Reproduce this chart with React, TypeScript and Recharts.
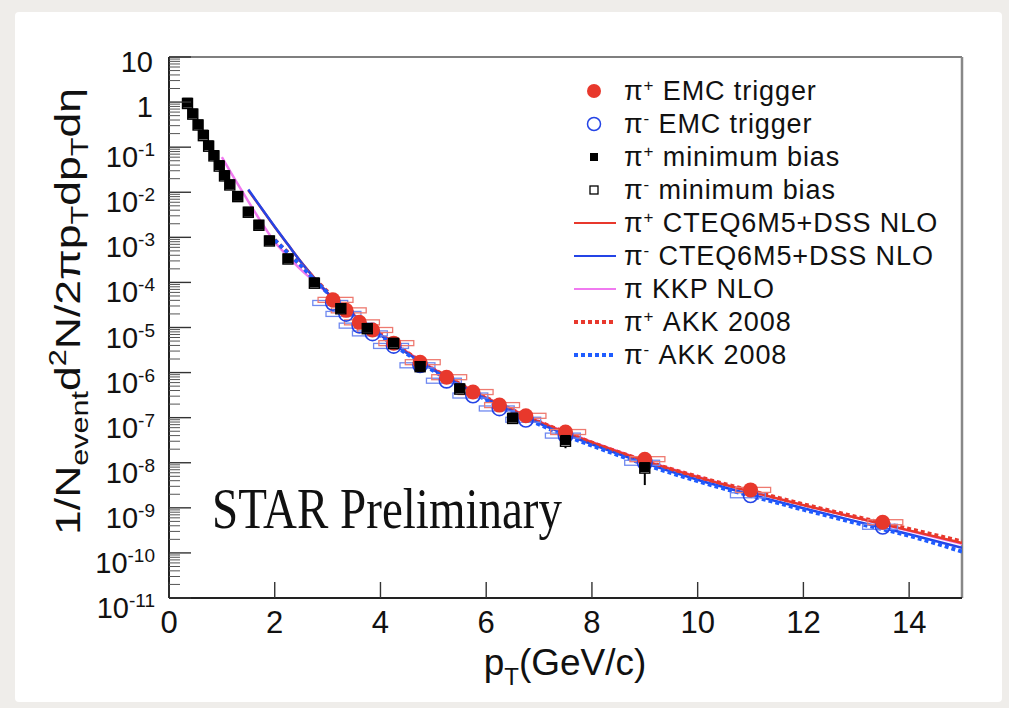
import React from "react";
import {
  ComposedChart,
  Line,
  Scatter,
  XAxis,
  YAxis,
  ErrorBar,
  ReferenceLine,
} from "recharts";

// canvas + plot frame
const W = 1009;
const H = 708;
const Y_AXIS_W = 169;
const X_AXIS_H = 110;
const MARGIN = { top: 57, right: 47, bottom: 0, left: 0 };
const PLOT_W = W - Y_AXIS_W - MARGIN.right;
const X_MAX = 15;
const PX_PER_GEV = PLOT_W / X_MAX;

const RED = "#e8382c";
const RED_BOX = "#ee7a70";
const BLUE = "#2444e6";
const BLUE_BOX = "#6f89f0";
const BLUE_DOT = "#1f5cff";
const MAGENTA = "#f07af0";
const FONT = "'Liberation Sans', Arial, Helvetica, sans-serif";

// ---- data ----
const mbPt = [0.35, 0.45, 0.55, 0.65, 0.75, 0.85, 0.95, 1.05, 1.15, 1.3, 1.5, 1.7, 1.9, 2.25, 2.75, 3.25, 3.75, 4.25, 4.75, 5.5, 6.5, 7.5, 9];
const mbPiPlus = [0.97, 0.56, 0.32, 0.19, 0.11, 0.067, 0.04, 0.024, 0.015, 8.3e-3, 3.7e-3, 1.9e-3, 8.5e-4, 3.4e-4, 1.0e-4, 2.7e-5, 9.8e-6, 4.6e-6, 1.4e-6, 4.5e-7, 1.0e-7, 3.2e-8, 8.0e-9];
const mbPiMinus = [0.93, 0.54, 0.31, 0.18, 0.105, 0.064, 0.038, 0.023, 0.0145, 8.0e-3, 3.6e-3, 1.85e-3, 8.3e-4, 3.3e-4, 9.6e-5, 2.6e-5, 9.4e-6, 4.4e-6, 1.35e-6, 4.3e-7, 9.6e-8, 3.0e-8, 7.6e-9];
const mbStatErr = [0, 0, 0, 0, 0, 0, 0, 0, 0, 0, 0, 0, 0, 0, 0, 0, 0, 0, 0, 0, 0, 1.1e-8, 4.8e-9];

const emcPt = [3.1, 3.35, 3.6, 3.85, 4.25, 4.75, 5.25, 5.75, 6.25, 6.75, 7.5, 9, 11, 13.5];
const emcPiPlus = [4.1e-5, 2.4e-5, 1.3e-5, 8.8e-6, 4.5e-6, 1.7e-6, 7.9e-7, 3.7e-7, 1.9e-7, 1.1e-7, 4.8e-8, 1.2e-8, 2.5e-9, 4.8e-10];
const emcPiMinus = [3.5e-5, 2.0e-5, 1.1e-5, 7.4e-6, 3.9e-6, 1.45e-6, 6.6e-7, 3.1e-7, 1.6e-7, 9.0e-8, 4.0e-8, 1.0e-8, 1.9e-9, 3.8e-10];

const dssPt = [1.5, 1.75, 2, 2.25, 2.5, 2.75, 3, 3.5, 4, 4.5, 5, 5.5, 6, 6.5, 7, 7.5, 8, 9, 10, 11, 12, 13, 14, 15];
const dssPiPlus = [1.1e-2, 4.37e-3, 1.7e-3, 6.9e-4, 2.82e-4, 1.26e-4, 5.9e-5, 1.86e-5, 6.9e-6, 2.82e-6, 1.2e-6, 5.6e-7, 2.75e-7, 1.48e-7, 8.1e-8, 4.7e-8, 2.82e-8, 1.1e-8, 4.8e-9, 2.29e-9, 1.15e-9, 6.0e-10, 3.16e-10, 1.66e-10];
const dssPiMinus = [1.15e-2, 4.4e-3, 1.72e-3, 6.9e-4, 2.8e-4, 1.24e-4, 5.8e-5, 1.82e-5, 6.7e-6, 2.72e-6, 1.15e-6, 5.3e-7, 2.6e-7, 1.38e-7, 7.5e-8, 4.3e-8, 2.55e-8, 9.8e-9, 4.2e-9, 1.98e-9, 9.8e-10, 5.0e-10, 2.6e-10, 1.3e-10];

const kkpPt = [1.0, 1.25, 1.5, 1.75, 2, 2.25, 2.5, 2.75, 3, 3.5, 4, 4.5, 5, 5.5, 6, 6.5, 7, 7.5, 8, 9, 10, 11, 12, 13, 14, 15];
const kkpPi = [6.0e-2, 1.9e-2, 6.3e-3, 2.14e-3, 7.9e-4, 3.8e-4, 1.9e-4, 1.05e-4, 5.75e-5, 1.9e-5, 7.0e-6, 2.9e-6, 1.22e-6, 5.7e-7, 2.8e-7, 1.5e-7, 8.3e-8, 4.8e-8, 2.9e-8, 1.13e-8, 4.9e-9, 2.3e-9, 1.15e-9, 6.0e-10, 3.1e-10, 1.6e-10];

const akkPt = [2, 2.25, 2.5, 2.75, 3, 3.5, 4, 4.5, 5, 5.5, 6, 6.5, 7, 7.5, 8, 9, 10, 11, 12, 13, 14, 15];
const akkPiPlus = [8.7e-4, 4.6e-4, 2.4e-4, 1.2e-4, 6.2e-5, 1.9e-5, 7.1e-6, 2.8e-6, 1.2e-6, 5.6e-7, 2.75e-7, 1.48e-7, 8.1e-8, 4.7e-8, 2.8e-8, 1.1e-8, 4.9e-9, 2.4e-9, 1.2e-9, 6.3e-10, 3.4e-10, 1.8e-10];
const akkPiMinus = [8.7e-4, 4.5e-4, 2.35e-4, 1.15e-4, 5.9e-5, 1.8e-5, 6.6e-6, 2.6e-6, 1.1e-6, 5.1e-7, 2.5e-7, 1.32e-7, 7.1e-8, 4.0e-8, 2.4e-8, 9.2e-9, 3.9e-9, 1.85e-9, 9.1e-10, 4.6e-10, 2.4e-10, 1.07e-10];

const xTicks = [0, 2, 4, 6, 8, 10, 12, 14];
const yDecades = [-11, -10, -9, -8, -7, -6, -5, -4, -3, -2, -1, 0, 1];

const legendLabels = [
  { sup: "+", text: " EMC trigger", kind: "redDot" },
  { sup: "-", text: " EMC trigger", kind: "blueRing" },
  { sup: "+", text: " minimum bias", kind: "blackSq" },
  { sup: "-", text: " minimum bias", kind: "openSq" },
  { sup: "+", text: " CTEQ6M5+DSS NLO", kind: "redLine" },
  { sup: "-", text: " CTEQ6M5+DSS NLO", kind: "blueLine" },
  { sup: "", text: " KKP NLO", kind: "magLine" },
  { sup: "+", text: " AKK 2008", kind: "redDash" },
  { sup: "-", text: " AKK 2008", kind: "blueDash" },
];

// build y ticks: majors + minors (2..9 x 10^n)
const yTicks: number[] = [];
yDecades.forEach((d) => {
  yTicks.push(Math.pow(10, d));
  if (d < 1) for (let k = 2; k <= 9; k++) yTicks.push(k * Math.pow(10, d));
});

const pts = (xs: number[], ys: number[], err?: number[]) =>
  xs.map((x, i) => ({ x, y: ys[i], err: err ? err[i] : 0 }));

function YTick(props: any) {
  const { x, y, payload } = props;
  const lg = Math.log10(payload.value);
  const e = Math.round(lg);
  const major = Math.abs(lg - e) < 1e-6;
  if (!major) {
    return <line x1={x} x2={x + 11} y1={y} y2={y} stroke="#555" strokeWidth={1} />;
  }
  return (
    <g>
      <line x1={x} x2={x + 22} y1={y} y2={y} stroke="#333" strokeWidth={1.4} />
      {e >= 0 ? (
        <text x={x - 16} y={y + 15} textAnchor="end" fontSize={29} fontFamily={FONT} fill="#111">
          {e === 1 ? "10" : "1"}
        </text>
      ) : (
        <text x={x - 14} y={y + 20} textAnchor="end" fontSize={29} fontFamily={FONT} fill="#111">
          10
          <tspan dy={-11} fontSize={19}>
            {String(e)}
          </tspan>
        </text>
      )}
    </g>
  );
}

function XTick(props: any) {
  const { x, y, payload } = props;
  return (
    <g>
      <line x1={x} x2={x} y1={y} y2={y - 16} stroke="#333" strokeWidth={1.4} />
      <text x={x} y={y + 35} textAnchor="middle" fontSize={31} fontFamily={FONT} fill="#111">
        {payload.value}
      </text>
    </g>
  );
}

const redDot = (p: any) => <circle cx={p.cx} cy={p.cy} r={7.5} fill={RED} />;
const blueRing = (p: any) => (
  <circle cx={p.cx} cy={p.cy} r={7.2} fill="none" stroke={BLUE} strokeWidth={1.6} />
);
const blackSq = (p: any) => <rect x={p.cx - 5} y={p.cy - 5} width={10} height={10} fill="#000" />;
const openSq = (p: any) => (
  <rect x={p.cx - 5} y={p.cy - 5} width={10} height={10} fill="#fff" stroke="#000" strokeWidth={1.4} />
);
const redBox = (p: any) => (
  <rect
    x={p.cx - 0.28 * PX_PER_GEV}
    y={p.cy - 2.5}
    width={0.66 * PX_PER_GEV}
    height={5}
    fill="none"
    stroke={RED_BOX}
    strokeWidth={1.3}
  />
);
const blueBox = (p: any) => (
  <rect
    x={p.cx - 0.38 * PX_PER_GEV}
    y={p.cy - 2.5}
    width={0.66 * PX_PER_GEV}
    height={5}
    fill="none"
    stroke={BLUE_BOX}
    strokeWidth={1.3}
  />
);

function LegendSymbol({ kind, cy }: { kind: string; cy: number }) {
  const cx = 594;
  switch (kind) {
    case "redDot":
      return <circle cx={cx} cy={cy} r={7} fill={RED} />;
    case "blueRing":
      return <circle cx={cx} cy={cy} r={6.5} fill="none" stroke={BLUE} strokeWidth={1.5} />;
    case "blackSq":
      return <rect x={cx - 4} y={cy - 4} width={8} height={8} fill="#000" />;
    case "openSq":
      return <rect x={cx - 4} y={cy - 4} width={8} height={8} fill="#fff" stroke="#000" strokeWidth={1.3} />;
    case "redLine":
      return <line x1={574} x2={616} y1={cy} y2={cy} stroke={RED} strokeWidth={2} />;
    case "blueLine":
      return <line x1={574} x2={616} y1={cy} y2={cy} stroke={BLUE} strokeWidth={2} />;
    case "magLine":
      return <line x1={574} x2={616} y1={cy} y2={cy} stroke={MAGENTA} strokeWidth={2} />;
    case "redDash":
      return <line x1={574} x2={616} y1={cy} y2={cy} stroke={RED} strokeWidth={4} strokeDasharray="4 3" />;
    default:
      return <line x1={574} x2={616} y1={cy} y2={cy} stroke={BLUE_DOT} strokeWidth={4} strokeDasharray="4 3" />;
  }
}

export default function App() {
  return (
    <div style={{ position: "absolute", left: 0, top: 0, width: W, height: H, background: "#efedea" }}>
      <div
        style={{
          position: "absolute",
          left: 15,
          top: 12,
          width: 987,
          height: 690,
          background: "#fff",
          borderRadius: 4,
        }}
      />
      <div style={{ position: "absolute", left: 0, top: 0 }}>
        <ComposedChart width={W} height={H} margin={MARGIN}>
          <XAxis
            dataKey="x"
            type="number"
            domain={[0, X_MAX]}
            ticks={xTicks}
            interval={0}
            height={X_AXIS_H}
            tickSize={0}
            tickMargin={0}
            tickLine={false}
            tick={<XTick />}
            axisLine={{ stroke: "#222", strokeWidth: 2 }}
            allowDataOverflow
          />
          <YAxis
            dataKey="y"
            type="number"
            scale="log"
            domain={[1e-11, 10]}
            ticks={yTicks}
            interval={0}
            width={Y_AXIS_W}
            tickSize={0}
            tickMargin={0}
            tickLine={false}
            tick={<YTick />}
            axisLine={{ stroke: "#222", strokeWidth: 2 }}
            allowDataOverflow
          />
          <ReferenceLine y={10} stroke="#555" strokeWidth={1.5} ifOverflow="visible" />
          <ReferenceLine x={X_MAX} stroke="#888" strokeWidth={2.5} ifOverflow="visible" />

          <Scatter data={pts(emcPt, emcPiMinus)} shape={blueBox} isAnimationActive={false} />
          <Scatter data={pts(emcPt, emcPiPlus)} shape={redBox} isAnimationActive={false} />
          <Scatter data={pts(emcPt, emcPiMinus)} shape={blueRing} isAnimationActive={false} />
          <Scatter data={pts(emcPt, emcPiPlus)} shape={redDot} isAnimationActive={false} />
          <Scatter data={pts(mbPt, mbPiMinus)} shape={openSq} isAnimationActive={false} />
          <Scatter data={pts(mbPt, mbPiPlus, mbStatErr)} shape={blackSq} isAnimationActive={false}>
            <ErrorBar dataKey="err" direction="y" width={0} stroke="#000" strokeWidth={2} />
          </Scatter>

          <Line data={pts(kkpPt, kkpPi)} dataKey="y" type="monotone" stroke={MAGENTA} strokeWidth={2.5} dot={false} isAnimationActive={false} />
          <Line data={pts(dssPt, dssPiPlus)} dataKey="y" type="monotone" stroke={RED} strokeWidth={2.5} dot={false} isAnimationActive={false} />
          <Line data={pts(dssPt, dssPiMinus)} dataKey="y" type="monotone" stroke={BLUE} strokeWidth={2.5} dot={false} isAnimationActive={false} />
          <Line data={pts(akkPt, akkPiPlus)} dataKey="y" type="monotone" stroke={RED} strokeWidth={4} strokeDasharray="4 3" dot={false} isAnimationActive={false} />
          <Line data={pts(akkPt, akkPiMinus)} dataKey="y" type="monotone" stroke={BLUE_DOT} strokeWidth={4} strokeDasharray="4 3" dot={false} isAnimationActive={false} />
        </ComposedChart>
      </div>

      <svg width={W} height={H} style={{ position: "absolute", left: 0, top: 0, pointerEvents: "none" }}>
        {/* y axis title */}
        <text
          x={80}
          y={535}
          transform="rotate(-90 80 535)"
          fontSize={35}
          fontFamily={FONT}
          fill="#111"
          textLength={447}
          lengthAdjust="spacingAndGlyphs"
        >
          1/N
          <tspan fontSize={24} dy={8}>event</tspan>
          <tspan fontSize={35} dy={-8}>d</tspan>
          <tspan fontSize={24} dy={-14}>2</tspan>
          <tspan fontSize={35} dy={14}>N/2πp</tspan>
          <tspan fontSize={24} dy={8}>T</tspan>
          <tspan fontSize={35} dy={-8}>dp</tspan>
          <tspan fontSize={24} dy={8}>T</tspan>
          <tspan fontSize={35} dy={-8}>dη</tspan>
        </text>

        {/* x axis title */}
        <text x={565} y={675} textAnchor="middle" fontSize={37} fontFamily={FONT} fill="#111">
          p<tspan fontSize={24} dy={10}>T</tspan>
          <tspan fontSize={37} dy={-10}>(GeV/c)</tspan>
        </text>

        <text
          x={212}
          y={528}
          fontSize={56}
          fontFamily="'Liberation Serif', 'Times New Roman', Times, serif"
          fill="#111"
          textLength={350}
          lengthAdjust="spacingAndGlyphs"
        >
          STAR Preliminary
        </text>

        {legendLabels.map((item, i) => {
          const cy = 91 + i * 33;
          return (
            <g key={i}>
              <LegendSymbol kind={item.kind} cy={cy} />
              <text x={624} y={cy + 9} fontSize={27} fontFamily={FONT} fill="#111" letterSpacing={0.9}>
                π
                {item.sup ? (
                  <tspan dy={-9} fontSize={17}>
                    {item.sup}
                  </tspan>
                ) : null}
                <tspan dy={item.sup ? 9 : 0} fontSize={27}>
                  {item.text}
                </tspan>
              </text>
            </g>
          );
        })}
      </svg>
    </div>
  );
}
